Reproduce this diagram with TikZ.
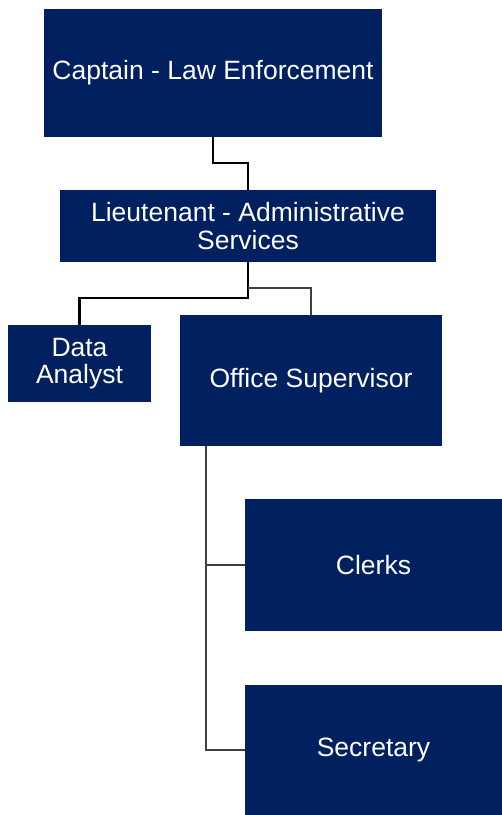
\documentclass[tikz,border=0pt]{standalone}
\usepackage{fontspec}
\setmainfont{Liberation Sans}
\usepackage{tikz}
\definecolor{navy}{HTML}{002060}
\definecolor{linegray}{HTML}{404040}

\begin{document}
\begin{tikzpicture}[x=1pt, y=-1pt,
  postnode/.style={rectangle, fill=navy, text=white, inner sep=0pt, align=center,
    font=\fontsize{26.5}{27.5}\selectfont},
  link/.style={draw=black, line width=2.2pt},
  sublink/.style={draw=linegray, line width=2.2pt}]
\useasboundingbox (0,0) rectangle (502,815);
\node[postnode, minimum width=338pt, minimum height=128pt] (Capt) at (213,73) {Captain - Law Enforcement};
\node[postnode, minimum width=376pt, minimum height=72pt] (Lieut) at (248,226) {Lieutenant - Administrative\\Services};
\node[postnode, minimum width=143pt, minimum height=77pt] (Data) at (79.5,363.5) {Data\\Analyst};
\node[postnode, minimum width=262pt, minimum height=131pt] (Office) at (311,380.5) {Office Supervisor};
\node[postnode, minimum width=257pt, minimum height=132pt] (Clerks) at (373.5,565) {Clerks};
\node[postnode, minimum width=257pt, minimum height=130pt] (Secr) at (373.5,750) {Secretary};
\draw[link] (Capt.south) -- ++(0,26) -| (Lieut.north);
\draw[link] (Lieut.south) -- ++(0,36) -| (Data.north);
\draw[sublink] (Lieut.south) ++(0,26) -| (Office.north);
\draw[sublink] ([xshift=26pt]Office.south west) |- (Clerks.west);
\draw[sublink] ([xshift=26pt]Office.south west) |- (Secr.west);
\end{tikzpicture}
\end{document}
